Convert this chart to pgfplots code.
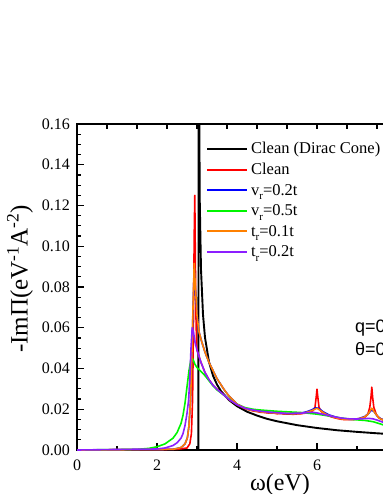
\documentclass[border=0pt]{standalone}
\usepackage{fontspec}
\setmainfont{Liberation Serif}
\newfontfamily\arialfont{Liberation Sans}
\usepackage{pgfplots}
\pgfplotsset{compat=1.18}
\definecolor{cred}{RGB}{255,0,0}
\definecolor{cblue}{RGB}{0,0,255}
\definecolor{cgreen}{RGB}{0,245,0}
\definecolor{corange}{RGB}{255,128,0}
\definecolor{cpurple}{RGB}{140,30,255}
\newcommand{\sub}[1]{\raisebox{-4.5pt}{\fontsize{11}{11}\selectfont #1}}
\begin{document}
\begin{tikzpicture}
\begin{axis}[
  at={(0pt,0pt)}, anchor=south west,
  scale only axis, width=400pt, height=326pt,
  xmin=0, xmax=10, ymin=0, ymax=0.16,
  axis line style={line width=1.4pt},
  tick align=inside,
  xtick pos=bottom, ytick pos=left,
  xtick={0,2,4,6,8,10}, minor x tick num=1,
  ytick={0,0.02,...,0.16}, minor y tick num=3,
  major tick length=7pt, minor tick length=4pt,
  major tick style={line width=1.2pt, black},
  minor tick style={line width=1.2pt, black},
  scaled y ticks=false,
  /pgf/number format/assume math mode=true,
  tick label style={font=\fontsize{16}{19}\selectfont},
  yticklabel style={/pgf/number format/fixed, /pgf/number format/fixed zerofill, /pgf/number format/precision=2, xshift=-3.5pt},
  xticklabel style={yshift=-6pt},
  xlabel={ω(eV)},
  xlabel style={font=\fontsize{24}{28}\selectfont, at={(axis description cs:0.5075,-0.1227)}, anchor=base},
  ylabel={-ImΠ(eV\textsuperscript{-1}A\textsuperscript{-2})},
  ylabel style={font=\fontsize{25}{29}\selectfont, at={(axis description cs:-0.1235,0.525)}, anchor=base},
  legend cell align=left,
  legend image code/.code={\draw[#1, line width=2.1pt] (0pt,0pt) -- (40pt,0pt);},
  legend style={draw=none, fill=none, at={(axis cs:3.22,0.1526)}, anchor=north west,
    font=\fontsize{16.5}{19.5}\selectfont, row sep=2pt, inner sep=0pt,
    nodes={inner sep=3pt}},
  every axis plot/.append style={line join=round},
]
% Clean (Dirac cone)
\addplot[black, line width=1.9pt] coordinates {
(0,0) (3.035,0) (3.04,0.32) (3.05,0.185) (3.07,0.121) (3.1,0.0886) (3.15,0.0664)
(3.2,0.0552) (3.3,0.0432) (3.4,0.0365) (3.5,0.0321) (3.6,0.0289) (3.8,0.0245)
(4.0,0.0215) (4.25,0.0188) (4.5,0.0169) (4.75,0.0153) (5.0,0.0141) (5.5,0.0122)
(6.0,0.0108) (6.5,0.0097) (7.0,0.0089) (7.5,0.0082) (8.0,0.0076)};
\addlegendentry{Clean (Dirac Cone)}
% Clean
\addplot[cred, line width=1.6pt] coordinates {
(0,0) (2.5,0.0003) (2.75,0.001) (2.82,0.003) (2.86,0.008) (2.89,0.025) (2.91,0.06)
(2.93,0.105) (2.945,0.125) (2.96,0.09) (2.975,0.065) (2.99,0.052) (3.0,0.049)
(3.1,0.043) (3.2,0.038) (3.3,0.0345) (3.4,0.0318) (3.5,0.0298) (3.6,0.0282)
(3.7,0.0265) (3.8,0.0248)
(4.0,0.0222) (4.2,0.0203) (4.3,0.0197) (4.4,0.0192) (4.5,0.0189) (4.6,0.0185)
(4.7,0.0184) (4.8,0.0181) (4.9,0.0182) (5.0,0.0178) (5.1,0.0179) (5.2,0.0176)
(5.3,0.0177) (5.4,0.0175) (5.5,0.0177) (5.6,0.0178) (5.7,0.0181) (5.8,0.0185)
(5.9,0.0193) (5.95,0.021) (5.98,0.026) (6.0,0.0298) (6.02,0.026) (6.05,0.021)
(6.1,0.019) (6.2,0.0175) (6.3,0.0167) (6.4,0.016) (6.5,0.0155) (6.6,0.0151)
(6.7,0.0149) (6.8,0.015) (6.9,0.0149) (7.0,0.0152) (7.1,0.0155) (7.2,0.0162)
(7.27,0.0175) (7.32,0.021) (7.35,0.026) (7.37,0.0308) (7.39,0.026) (7.42,0.021)
(7.48,0.0175) (7.55,0.0157) (7.65,0.0148) (7.8,0.014)};
\addlegendentry{Clean}
% v_r = 0.2t
\addplot[cblue, line width=1.6pt] coordinates {
(0,0) (2.4,0.0003) (2.6,0.0012) (2.7,0.003) (2.76,0.006) (2.8,0.012) (2.84,0.025)
(2.87,0.045) (2.9,0.068) (2.93,0.089) (2.96,0.079) (3.0,0.066) (3.05,0.058)
(3.12,0.053) (3.2,0.048) (3.3,0.043) (3.4,0.039) (3.5,0.035) (3.6,0.032) (3.7,0.029)
(3.8,0.0265) (4.0,0.0225) (4.2,0.0205) (4.4,0.0195) (4.6,0.0188) (4.8,0.0184)
(5.0,0.0181) (5.2,0.0179) (5.4,0.0178) (5.6,0.0181) (5.75,0.0188) (5.88,0.0198)
(5.96,0.0207) (6.04,0.0205) (6.15,0.0188) (6.3,0.0172) (6.5,0.016) (6.7,0.0152)
(6.9,0.015) (7.05,0.0154) (7.2,0.0165) (7.3,0.0182) (7.36,0.0196) (7.42,0.019)
(7.5,0.0168) (7.6,0.0152) (7.8,0.0142)};
\addlegendentry{v\sub{r}=0.2t}
% v_r = 0.5t
\addplot[cgreen, line width=1.6pt] coordinates {
(0,0) (1.5,0.0003) (1.8,0.0008) (2.0,0.0016) (2.2,0.003) (2.4,0.0058) (2.5,0.0085)
(2.6,0.013) (2.65,0.017) (2.7,0.023) (2.75,0.031) (2.8,0.039) (2.84,0.0435)
(2.87,0.045) (2.9,0.0445) (2.95,0.042) (3.0,0.0405) (3.1,0.0385) (3.2,0.0365)
(3.3,0.034) (3.4,0.0315) (3.5,0.0295) (3.6,0.028) (3.7,0.0265) (3.8,0.025)
(4.0,0.0225) (4.2,0.0208) (4.4,0.02) (4.6,0.0196) (4.8,0.0193) (5.0,0.019)
(5.2,0.0188) (5.4,0.0186) (5.6,0.0184) (5.8,0.018) (6.0,0.0176) (6.2,0.017)
(6.4,0.0163) (6.6,0.0157) (6.8,0.0152) (7.0,0.0148) (7.2,0.0145) (7.4,0.0139)
(7.5,0.0133) (7.6,0.0127) (7.7,0.012) (7.8,0.0115)};
\addlegendentry{v\sub{r}=0.5t}
% t_r = 0.1t
\addplot[corange, line width=1.6pt] coordinates {
(0,0) (2.4,0.0003) (2.6,0.0012) (2.7,0.003) (2.76,0.006) (2.8,0.012) (2.84,0.025)
(2.87,0.045) (2.9,0.07) (2.93,0.0916) (2.96,0.08) (3.0,0.066) (3.05,0.058)
(3.12,0.053) (3.2,0.048) (3.3,0.043) (3.4,0.039) (3.5,0.035) (3.6,0.032) (3.7,0.029)
(3.8,0.0265) (4.0,0.0225) (4.2,0.0205) (4.3,0.0198) (4.4,0.0194) (4.5,0.019)
(4.6,0.0187) (4.7,0.0185) (4.8,0.0183) (4.9,0.0182) (5.0,0.018) (5.1,0.0181)
(5.2,0.0178) (5.3,0.0179) (5.4,0.0177) (5.5,0.0179) (5.6,0.018) (5.7,0.0183)
(5.8,0.0188) (5.9,0.0196) (6.0,0.0205) (6.1,0.0192) (6.2,0.0178) (6.3,0.0169)
(6.4,0.0163) (6.5,0.0157) (6.6,0.0153) (6.7,0.015) (6.8,0.015) (6.9,0.015)
(7.0,0.0153) (7.1,0.0156) (7.2,0.0163) (7.28,0.0178) (7.37,0.0205) (7.45,0.0182)
(7.55,0.0157) (7.65,0.0147) (7.8,0.0141)};
\addlegendentry{t\sub{r}=0.1t}
% t_r = 0.2t
\addplot[cpurple, line width=1.6pt] coordinates {
(0,0) (2.0,0.0005) (2.2,0.001) (2.4,0.0022) (2.5,0.0035) (2.6,0.0058) (2.65,0.008)
(2.7,0.012) (2.75,0.018) (2.79,0.0245) (2.82,0.035) (2.85,0.05) (2.88,0.06)
(2.91,0.058) (2.95,0.053) (3.0,0.049) (3.1,0.043) (3.2,0.038) (3.3,0.0345)
(3.4,0.0318) (3.5,0.0298) (3.6,0.0282) (3.7,0.0265) (3.8,0.0248) (4.0,0.0222)
(4.2,0.0205) (4.4,0.0196) (4.6,0.019) (4.8,0.0186) (5.0,0.0183) (5.2,0.018)
(5.4,0.018) (5.6,0.0181) (5.8,0.0184) (5.9,0.0185) (6.0,0.0182) (6.2,0.0173)
(6.4,0.0164) (6.6,0.0157) (6.8,0.0153) (7.0,0.0152) (7.2,0.0154) (7.3,0.0155)
(7.4,0.0153) (7.5,0.0147) (7.6,0.014) (7.7,0.0133) (7.8,0.0128)};
\addlegendentry{t\sub{r}=0.2t}
\node[anchor=base west, font=\arialfont\fontsize{18}{21}\selectfont, inner sep=0pt] at (axis cs:6.95,0.0575) {q=0.1};
\node[anchor=base west, font=\arialfont\fontsize{18}{21}\selectfont, inner sep=0pt] at (axis cs:6.95,0.0463) {θ=0};
\end{axis}
\begin{axis}[
  at={(0pt,0pt)}, anchor=south west,
  scale only axis, width=400pt, height=326pt,
  xmin=0, xmax=10, ymin=0, ymax=0.16,
  axis x line*=top, axis y line=none,
  axis line style={line width=1.4pt},
  xtick={0.75,1.5,2.25,3,3.75,4.5,5.25,6,6.75,7.5,8.25,9,9.75},
  xticklabels={}, tick align=inside,
  major tick length=5pt, major tick style={line width=1.2pt, black},
]
\end{axis}
\pgfresetboundingbox
\path[use as bounding box] (-77pt,-44pt) rectangle (305pt,450pt);
\end{tikzpicture}
\end{document}
